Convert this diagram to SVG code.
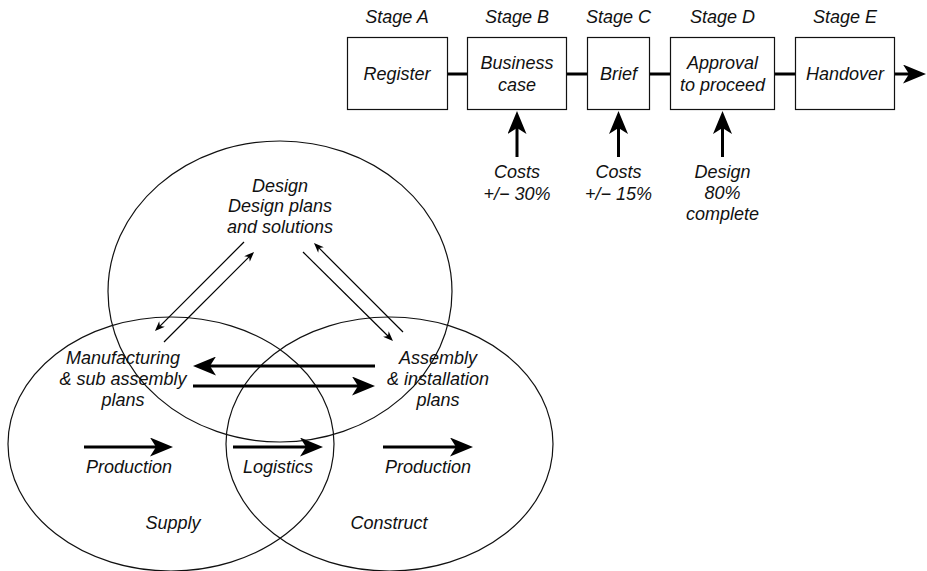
<svg xmlns="http://www.w3.org/2000/svg" width="927" height="571" viewBox="0 0 927 571">
<style>
text{font-family:"Liberation Sans",Arial,Helvetica,sans-serif;font-style:italic;font-size:18px;fill:#111;text-anchor:middle}
.box{fill:#fff;stroke:#111;stroke-width:1.2}
.ell{fill:none;stroke:#111;stroke-width:1.2}
.thick{stroke:#000;stroke-width:3;fill:none}
.thin{stroke:#000;stroke-width:1.2;fill:none}
</style>
<defs>
<marker id="ah" viewBox="0 0 23 19" refX="8" refY="9.5" markerWidth="23" markerHeight="19" markerUnits="userSpaceOnUse" orient="auto"><path d="M0,0 L23,9.5 L0,19 L6,9.5 Z" fill="#000"/></marker>
<marker id="ahs" viewBox="0 0 10 8" refX="4" refY="4" markerWidth="10" markerHeight="8" markerUnits="userSpaceOnUse" orient="auto"><path d="M0,0 L10,4 L0,8 L3,4 Z" fill="#000"/></marker>
</defs>
<g id="venn">
<ellipse id="design-circle" class="ell" cx="280" cy="291.5" rx="172" ry="150.5"/>
<ellipse id="supply-circle" class="ell" cx="171" cy="444" rx="163" ry="127"/>
<ellipse id="construct-circle" class="ell" cx="389.5" cy="444" rx="163.5" ry="127"/>
</g>
<g id="connectors">
<line class="thick" x1="447" y1="74" x2="467" y2="74"/>
<line class="thick" x1="567" y1="74" x2="587" y2="74"/>
<line class="thick" x1="650" y1="74" x2="670" y2="74"/>
<line class="thick" x1="775" y1="74" x2="795" y2="74"/>
<line class="thick" x1="895" y1="74" x2="911" y2="74" marker-end="url(#ah)"/>
<line class="thick" x1="517" y1="157" x2="517" y2="126" marker-end="url(#ah)"/>
<line class="thick" x1="618.5" y1="157" x2="618.5" y2="126" marker-end="url(#ah)"/>
<line class="thick" x1="722.5" y1="157" x2="722.5" y2="126" marker-end="url(#ah)"/>
<line class="thin" x1="244" y1="242" x2="159.2" y2="326.8" marker-end="url(#ahs)"/>
<line class="thin" x1="164" y1="342" x2="249.8" y2="256.2" marker-end="url(#ahs)"/>
<line class="thin" x1="303" y1="252" x2="388.7" y2="336.8" marker-end="url(#ahs)"/>
<line class="thin" x1="403" y1="332" x2="318.2" y2="247.2" marker-end="url(#ahs)"/>
<line class="thick" x1="375" y1="366" x2="208" y2="366" marker-end="url(#ah)"/>
<line class="thick" x1="193" y1="386" x2="360" y2="386" marker-end="url(#ah)"/>
<line class="thick" x1="84" y1="447" x2="158" y2="447" marker-end="url(#ah)"/>
<line class="thick" x1="233" y1="447" x2="308" y2="447" marker-end="url(#ah)"/>
<line class="thick" x1="383" y1="447" x2="458" y2="447" marker-end="url(#ah)"/>
</g>
<g id="stage-a"><text x="397" y="23">Stage A</text><rect class="box" x="347.5" y="37.5" width="100" height="72"/><text x="397" y="80">Register</text></g>
<g id="stage-b"><text x="517" y="23">Stage B</text><rect class="box" x="467.5" y="37.5" width="99" height="72"/><text x="517" y="69">Business</text><text x="517" y="91">case</text></g>
<g id="stage-c"><text x="618.5" y="23">Stage C</text><rect class="box" x="587.5" y="37.5" width="62" height="72"/><text x="618.5" y="80">Brief</text></g>
<g id="stage-d"><text x="722.5" y="23">Stage D</text><rect class="box" x="670.5" y="37.5" width="104" height="72"/><text x="722.5" y="69">Approval</text><text x="722.5" y="91">to proceed</text></g>
<g id="stage-e"><text x="845" y="23">Stage E</text><rect class="box" x="795.5" y="37.5" width="99" height="72"/><text x="845" y="80">Handover</text></g>
<g id="cost-b"><text x="517" y="178">Costs</text><text x="517" y="200">+/− 30%</text></g>
<g id="cost-c"><text x="618.5" y="178">Costs</text><text x="618.5" y="200">+/− 15%</text></g>
<g id="design-d"><text x="722.5" y="178">Design</text><text x="722.5" y="199">80%</text><text x="722.5" y="220">complete</text></g>
<g id="design"><text x="280" y="192">Design</text><text x="280" y="212">Design plans</text><text x="280" y="233">and solutions</text></g>
<g id="manufacturing"><text x="123" y="364">Manufacturing</text><text x="123" y="385">&amp; sub assembly</text><text x="123" y="406">plans</text></g>
<g id="assembly"><text x="438" y="364">Assembly</text><text x="438" y="385">&amp; installation</text><text x="438" y="406">plans</text></g>
<g id="production-1"><text x="129" y="473">Production</text></g>
<g id="logistics"><text x="278" y="473">Logistics</text></g>
<g id="production-2"><text x="428" y="473">Production</text></g>
<g id="supply"><text x="173" y="529">Supply</text></g>
<g id="construct"><text x="389" y="529">Construct</text></g>
</svg>
